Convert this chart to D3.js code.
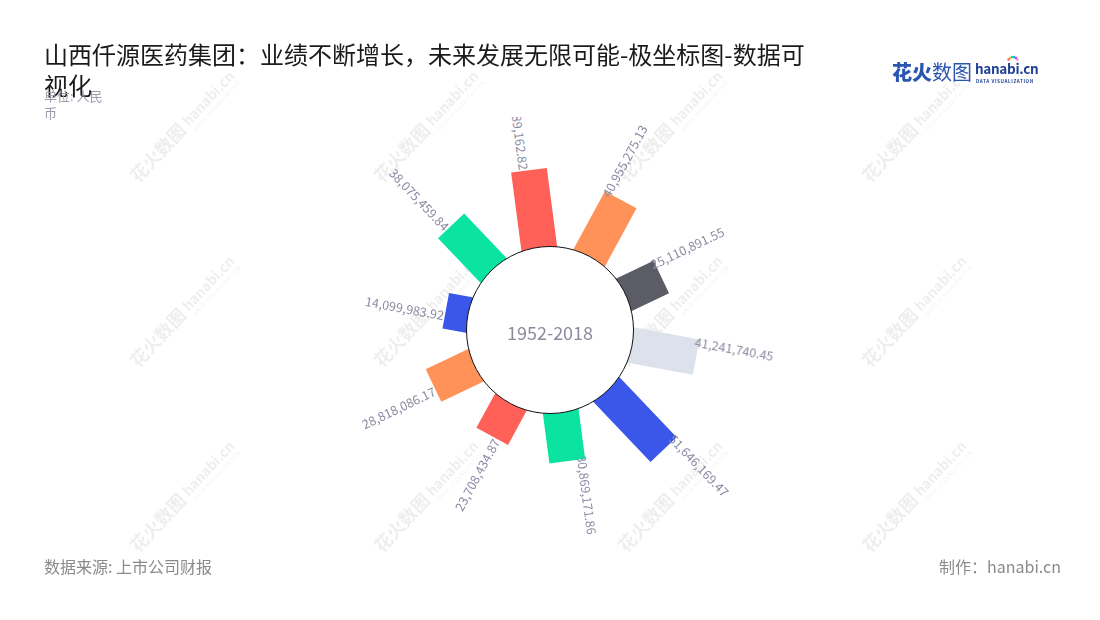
<!DOCTYPE html>
<html>
<head>
<meta charset="utf-8">
<script src="https://cdn.jsdelivr.net/npm/d3@7/dist/d3.min.js"></script>
<style>
  html, body { margin: 0; padding: 0; background: #fff; }
  svg { display: block; }
  text { font-family: "Noto Sans CJK SC", "Noto Sans", sans-serif; }
</style>
</head>
<body>
<svg id="chart" width="1100" height="620"></svg>
<script>
// ---- data ----
const categories = ["2009", "2010", "2011", "2012", "2013", "2014", "2015", "2016", "2017", "2018"];
const values = [49189162.82, 40955275.13, 25110891.55, 41241740.45, 51646169.47,
                30869171.86, 23708434.87, 28818086.17, 14099983.92, 38075459.84];
const barColors = ["#ff6159", "#ff9259", "#5b5c66", "#dde1eb", "#3b57ea",
                   "#0be3a1", "#ff6159", "#ff9259", "#3b57ea", "#0be3a1"];
const titleLines = ["山西仟源医药集团：业绩不断增长，未来发展无限可能-极坐标图-数据可", "视化"];
const unitLines = ["单位: 人民", "币"];
const centerLabel = "1952-2018";
const sourceText = "数据来源: 上市公司财报";
const makerText = "制作：hanabi.cn";

// ---- layout ----
const W = 1100, H = 620;
const cx = 550, cy = 330;
const innerR = 83.5;
const svg = d3.select("#chart");

// watermarks
const wmG = svg.append("g").attr("opacity", 0.07);
[183, 427, 671, 915].forEach(x => {
  [127, 312, 497].forEach(y => {
    const g = wmG.append("g").attr("transform", `translate(${x},${y}) rotate(-47)`);
    g.append("text").attr("x", -72).attr("y", 6).attr("font-size", 18).attr("font-weight", 700)
      .attr("fill", "#000").text("花火数图");
    g.append("text").attr("x", 4).attr("y", 4).attr("font-size", 14).attr("font-weight", 700)
      .attr("fill", "#000").text("hanabi.cn");
    g.append("text").attr("x", 6).attr("y", 12).attr("font-size", 5).attr("fill", "#000")
      .attr("letter-spacing", 1).text("DATA VISUALIZATION");
  });
});

// scales
const angle = d3.scaleBand().domain(categories).range([-25.5, 334.5]).padding(0);
const r = d3.scaleLinear().domain([0, 50000000]).range([83.85, 162.4]);
const angC = c => angle(c) + angle.bandwidth() / 2;

const chart = svg.append("g").attr("transform", `translate(${cx},${cy})`);

// bars (rectangles rotated along their angle)
chart.selectAll("rect.bar").data(categories).join("rect")
  .attr("class", "bar")
  .attr("transform", c => `rotate(${angC(c)})`)
  .attr("x", -18)
  .attr("width", 36)
  .attr("y", (c, i) => -r(values[i]))
  .attr("height", (c, i) => r(values[i]) - 60)
  .attr("fill", (c, i) => barColors[i]);

// inner circle
chart.append("circle").attr("r", innerR).attr("fill", "#fff")
  .attr("stroke", "#111").attr("stroke-width", 1);

chart.append("text").attr("text-anchor", "middle").attr("y", 10)
  .attr("font-size", 18).attr("fill", "#8c8ca0").text(centerLabel);

// labels
svg.append("clipPath").attr("id", "clipTop").append("rect")
  .attr("x", 0).attr("y", 117).attr("width", W).attr("height", H - 117);
const labG = svg.append("g").attr("clip-path", "url(#clipTop)")
  .append("g").attr("transform", `translate(${cx},${cy})`);
const fmt = d3.format(",.2f");
labG.selectAll("text").data(categories).join("text")
  .attr("font-size", 12.5)
  .attr("fill", "#8a8ba3")
  .attr("transform", (c, i) => {
    let a = angC(c);
    let n = ((a % 360) + 360) % 360;
    if (n < 180) return `rotate(${a - 90}) translate(${r(values[i]) - 4},${-10})`;
    return `rotate(${a - 270}) translate(${-(r(values[i]) + 1)},${10})`;
  })
  .attr("text-anchor", c => {
    let n = ((angC(c) % 360) + 360) % 360;
    return n < 180 ? "start" : "end";
  })
  .text((c, i) => fmt(values[i]));

// title
titleLines.forEach((t, i) => {
  svg.append("text").attr("x", 44).attr("y", 64 + i * 31).attr("font-size", 24)
    .attr("fill", "#1a1a1a").text(t);
});
unitLines.forEach((t, i) => {
  svg.append("text").attr("x", 44).attr("y", 101 + i * 17).attr("font-size", 13)
    .attr("fill", "#9a9caa").text(t);
});

// footer
svg.append("text").attr("x", 44).attr("y", 573).attr("font-size", 16)
  .attr("fill", "#8a8a8a").text(sourceText);
svg.append("text").attr("x", 1061).attr("y", 573).attr("font-size", 16)
  .attr("text-anchor", "end").attr("fill", "#8a8a8a").text(makerText);

// logo
const logo = svg.append("g");
logo.append("text").attr("x", 892).attr("y", 80).attr("font-size", 20).attr("font-weight", 900)
  .attr("fill", "#2a56b0").text("花火");
logo.append("text").attr("x", 932).attr("y", 80).attr("font-size", 20).attr("font-weight", 400)
  .attr("fill", "#2a56b0").text("数图");
logo.append("text").attr("x", 975).attr("y", 74).attr("font-size", 13.5).attr("font-weight", 700)
  .attr("fill", "#1f3f96").attr("letter-spacing", -0.3).text("hanabi.cn");
logo.append("text").attr("x", 976).attr("y", 82.5).attr("font-size", 4.6).attr("font-weight", 700)
  .attr("fill", "#1f3f96").attr("letter-spacing", 0.6).text("DATA VISUALIZATION");
const dotColors = ["#ff5f57", "#ffb020", "#0be3a1", "#3b9cff", "#a64dff", "#ff7bd0"];
dotColors.forEach((col, i) => {
  const a = (-150 + i * 24) * Math.PI / 180;
  logo.append("circle").attr("cx", 1013 + 5 * Math.cos(a)).attr("cy", 62 + 5 * Math.sin(a))
    .attr("r", 1.3).attr("fill", col);
});
</script>
</body>
</html>
